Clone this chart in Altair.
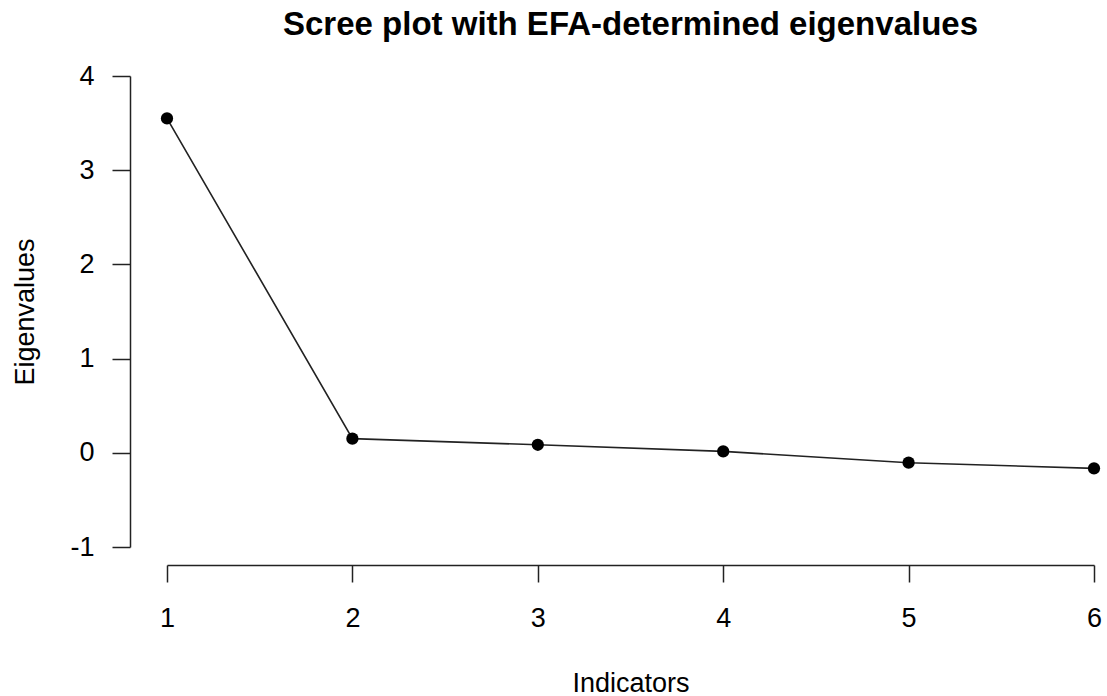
import altair as alt
import pandas as pd

indicators = [1, 2, 3, 4, 5, 6]
eigenvalues = [3.55, 0.15, 0.085, 0.015, -0.105, -0.165]

df = pd.DataFrame({"Indicators": indicators, "Eigenvalues": eigenvalues})

FONT = "Liberation Sans"

base = alt.Chart(df).encode(
    x=alt.X("Indicators:Q",
            scale=alt.Scale(domain=[1, 6], nice=False, zero=False),
            axis=alt.Axis(values=[1, 2, 3, 4, 5, 6], labelExpr="'' + datum.value",
                          offset=18, labelFlush=False, labelOverlap=False,
                          tickSize=17, labelPadding=23, grid=False,
                          domainColor="#222", tickColor="#222", domainWidth=1.5, tickWidth=1.5,
                          labelFont=FONT, labelFontSize=27, labelColor="black",
                          title="Indicators", titleFont=FONT, titleFontSize=27,
                          titleFontWeight="normal", titleColor="black",
                          titleBaseline="alphabetic", titleY=126)),
    y=alt.Y("Eigenvalues:Q",
            scale=alt.Scale(domain=[-1, 4], nice=False, zero=False),
            axis=alt.Axis(values=[-1, 0, 1, 2, 3, 4], labelExpr="'' + datum.value",
                          offset=37, labelFlush=False, labelOverlap=False,
                          tickSize=18, labelPadding=18, grid=False,
                          domainColor="#222", tickColor="#222", domainWidth=1.5, tickWidth=1.5,
                          labelFont=FONT, labelFontSize=27, labelColor="black",
                          title="Eigenvalues", titleFont=FONT, titleFontSize=27,
                          titleFontWeight="normal", titleColor="black",
                          titleBaseline="alphabetic", titleX=-97)),
)

line = base.mark_line(color="#222", strokeWidth=1.6)
points = base.mark_circle(color="black", opacity=1, size=150)

chart = (line + points).properties(
    width=927,
    height=471,
    title=alt.TitleParams("Scree plot with EFA-determined eigenvalues",
                          font=FONT, fontSize=33, fontWeight="bold", color="black",
                          anchor="middle", offset=20),
    autosize=alt.AutoSizeParams(type="none"),
    padding={"left": 167, "top": 76, "right": 13, "bottom": 149},
    background="white",
).configure_view(stroke=None)

chart.save("out.html", embed_options={"renderer": "svg", "actions": False})
